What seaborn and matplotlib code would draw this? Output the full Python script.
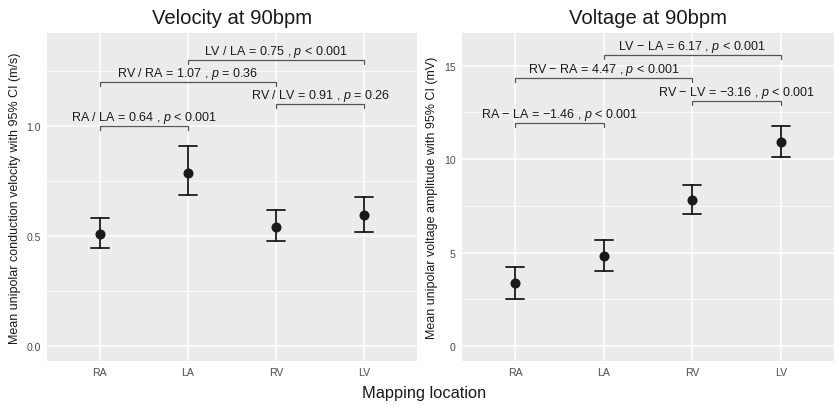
import numpy as np
import pandas as pd
import matplotlib
matplotlib.use("Agg")
import matplotlib.pyplot as plt
import seaborn as sns

# ---- data ----
locations = ["RA", "LA", "RV", "LV"]

vel_mean = [0.508, 0.787, 0.542, 0.596]
vel_lower = [0.446, 0.684, 0.477, 0.519]
vel_upper = [0.580, 0.908, 0.619, 0.675]

volt_mean = [3.37, 4.83, 7.81, 10.93]
volt_lower = [2.51, 3.99, 7.04, 10.11]
volt_upper = [4.22, 5.68, 8.63, 11.76]

# brackets: (group1, group2), y, label
vel_pairs = [("RA", "LA"), ("RA", "RV"), ("RV", "LV"), ("LA", "LV")]
vel_bracket_y = [1.0, 1.2, 1.1, 1.3]
vel_labels = [
    r"RA / LA = 0.64 , $\mathit{p}$ < 0.001",
    r"RV / RA = 1.07 , $\mathit{p}$ = 0.36",
    r"RV / LV = 0.91 , $\mathit{p}$ = 0.26",
    r"LV / LA = 0.75 , $\mathit{p}$ < 0.001",
]

volt_pairs = [("RA", "LA"), ("RA", "RV"), ("RV", "LV"), ("LA", "LV")]
volt_bracket_y = [11.95, 14.35, 13.13, 15.58]
volt_labels = [
    r"RA − LA = −1.46 , $\mathit{p}$ < 0.001",
    r"RV − RA = 4.47 , $\mathit{p}$ < 0.001",
    r"RV − LV = −3.16 , $\mathit{p}$ < 0.001",
    r"LV − LA = 6.17 , $\mathit{p}$ < 0.001",
]

sns.set_theme(style="darkgrid")
plt.rcParams["font.family"] = ["Liberation Sans", "DejaVu Sans"]
plt.rcParams["mathtext.fontset"] = "custom"
plt.rcParams["mathtext.rm"] = "Liberation Sans"
plt.rcParams["mathtext.it"] = "Liberation Sans:italic"

fig = plt.figure(figsize=(8.36, 4.06), dpi=100)
ax1 = fig.add_axes([47 / 836, 44 / 406, 370 / 836, 328 / 406])
ax2 = fig.add_axes([462 / 836, 44 / 406, 372 / 836, 328 / 406])

BG = "#EBEBEB"
INK = "#1A1A1A"
BR = "#555555"


def long_df(means, lows, ups):
    rows = []
    for loc, m, lo, up in zip(locations, means, lows, ups):
        for v in (lo, m, up):
            rows.append({"loc": loc, "val": v})
    return pd.DataFrame(rows)


def panel(ax, means, lows, ups, pairs, by, labels, ylim, major, minor, title, ylabel, tip):
    df = long_df(means, lows, ups)
    sns.pointplot(data=df, x="loc", y="val", order=locations, estimator="median",
                  errorbar=("pi", 100), capsize=0.2, color=INK, linestyle="none",
                  markersize=5.2, err_kws={"linewidth": 1.3}, ax=ax)
    ax.set_facecolor(BG)
    ax.set_xlim(-0.6, 3.6)
    ax.set_ylim(*ylim)
    ax.set_yticks(major)
    ax.set_yticks(minor, minor=True)
    ax.grid(True, which="major", color="white", linewidth=1.1)
    ax.grid(True, which="minor", axis="y", color="white", linewidth=0.55)
    ax.set_axisbelow(True)
    for s in ax.spines.values():
        s.set_visible(False)
    ax.tick_params(axis="both", which="major", length=2.5, width=0.8, color="#333333",
                   labelsize=7.6, labelcolor="#4D4D4D", pad=2)
    ax.tick_params(axis="both", which="minor", length=0)
    ax.set_xlabel("")
    ax.set_ylabel(ylabel, fontsize=9, color=INK, labelpad=4)
    ax.set_title(title, fontsize=14.6, color=INK, pad=7)
    for (g1, g2), y, lab in zip(pairs, by, labels):
        x1, x2 = locations.index(g1), locations.index(g2)
        ax.plot([x1, x1, x2, x2], [y - tip, y, y, y - tip], color=BR, linewidth=0.9,
                solid_joinstyle="miter")
        ax.text((x1 + x2) / 2, y + tip * 0.25, lab, ha="center", va="bottom",
                fontsize=9.0, color=INK)


panel(ax1, vel_mean, vel_lower, vel_upper, vel_pairs, vel_bracket_y, vel_labels,
      (-0.068, 1.421), [0.0, 0.5, 1.0], [0.25, 0.75, 1.25], "Velocity at 90bpm",
      "Mean unipolar conduction velocity with 95% CI (m/s)", 0.018)
ax1.set_yticklabels(["0.0", "0.5", "1.0"])

panel(ax2, volt_mean, volt_lower, volt_upper, volt_pairs, volt_bracket_y, volt_labels,
      (-0.80, 16.75), [0, 5, 10, 15], [2.5, 7.5, 12.5], "Voltage at 90bpm",
      "Mean unipolar voltage amplitude with 95% CI (mV)", 0.23)

fig.text(424 / 836, 1 - 394 / 406, "Mapping location", ha="center", va="center",
         fontsize=11.8, color=INK)

fig.savefig("out.png", dpi=100, facecolor="white")
